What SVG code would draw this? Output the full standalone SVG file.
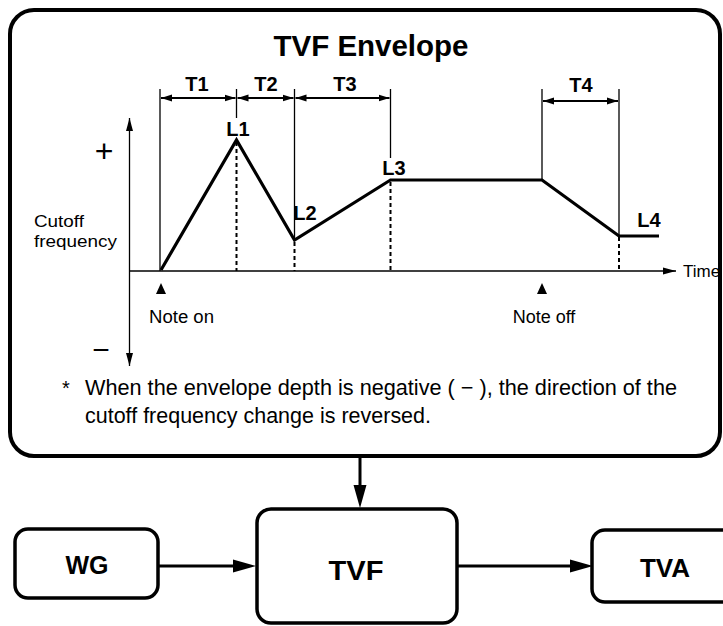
<svg xmlns="http://www.w3.org/2000/svg" width="723" height="626" viewBox="0 0 723 626">
<defs>
<style>
text{font-family:"Liberation Sans",Arial,sans-serif;fill:#000}
.b{font-weight:bold}
.thin{stroke:#000;stroke-width:1.3;fill:none}
.dim{stroke:#000;stroke-width:2;fill:none}
.dash{stroke:#000;stroke-width:2;stroke-dasharray:4 3;fill:none}
.env{stroke:#000;stroke-width:3.2;fill:none;stroke-linejoin:miter}
.box{fill:#fff;stroke:#000;stroke-width:3.5}
.conn{stroke:#000;stroke-width:3;fill:none}
</style>
<marker id="dimh" markerUnits="userSpaceOnUse" markerWidth="12" markerHeight="8" refX="11" refY="4" orient="auto-start-reverse"><path d="M0,0.5 L11,4 L0,7.5 z" fill="#000"/></marker>
<marker id="axh" markerUnits="userSpaceOnUse" markerWidth="14" markerHeight="8" refX="13" refY="4" orient="auto"><path d="M0,0.5 L13,4 L0,7.5 z" fill="#000"/></marker>
<marker id="big" markerUnits="userSpaceOnUse" markerWidth="24" markerHeight="14" refX="12" refY="7" orient="auto"><path d="M0,0.5 L23,7 L0,13.5 z" fill="#000"/></marker>
</defs>
<rect width="723" height="626" fill="#fff"/>

<g id="envelope-panel">
<rect x="10" y="10" width="710" height="446" rx="24" fill="#fff" stroke="#000" stroke-width="4"/>
<text class="b" x="371" y="56" font-size="30" text-anchor="middle" textLength="195" lengthAdjust="spacingAndGlyphs">TVF Envelope</text>

<!-- time dimension lines -->
<line class="thin" x1="160" y1="89" x2="160" y2="271"/>
<line class="thin" x1="236.5" y1="89" x2="236.5" y2="118"/>
<line class="thin" x1="294.5" y1="89" x2="294.5" y2="240"/>
<line class="thin" x1="390.5" y1="89" x2="390.5" y2="158"/>
<line class="thin" x1="542" y1="89" x2="542" y2="180"/>
<line class="thin" x1="619" y1="89" x2="619" y2="236"/>
<line class="dim" x1="161" y1="98" x2="235.5" y2="98" marker-start="url(#dimh)" marker-end="url(#dimh)"/>
<line class="dim" x1="237.5" y1="98" x2="293.5" y2="98" marker-start="url(#dimh)" marker-end="url(#dimh)"/>
<line class="dim" x1="295.5" y1="98" x2="389.5" y2="98" marker-start="url(#dimh)" marker-end="url(#dimh)"/>
<line class="dim" x1="543" y1="101" x2="618" y2="101" marker-start="url(#dimh)" marker-end="url(#dimh)"/>
<text class="b" x="197" y="91" font-size="20" text-anchor="middle">T1</text>
<text class="b" x="266" y="91" font-size="20" text-anchor="middle">T2</text>
<text class="b" x="345" y="91" font-size="20" text-anchor="middle">T3</text>
<text class="b" x="581" y="92" font-size="20" text-anchor="middle">T4</text>

<!-- axes -->
<line class="thin" x1="129.5" y1="250" x2="129.5" y2="118" stroke-width="1.6" marker-end="url(#axh)"/>
<line class="thin" x1="129.5" y1="250" x2="129.5" y2="366" stroke-width="1.6" marker-end="url(#axh)"/>
<line class="thin" x1="129.5" y1="271" x2="676" y2="271" stroke-width="1.8" marker-end="url(#axh)"/>
<text x="104" y="162" font-size="32" text-anchor="middle">+</text>
<text x="101" y="360" font-size="30" text-anchor="middle">−</text>
<text x="34" y="227" font-size="17" textLength="50" lengthAdjust="spacingAndGlyphs">Cutoff</text>
<text x="34" y="247" font-size="17" textLength="83" lengthAdjust="spacingAndGlyphs">frequency</text>
<text x="683" y="277" font-size="17">Time</text>

<!-- dashed level guides -->
<line class="dash" x1="236.5" y1="142" x2="236.5" y2="271"/>
<line class="dash" x1="294.5" y1="242" x2="294.5" y2="271"/>
<line class="dash" x1="390.5" y1="182" x2="390.5" y2="271"/>
<line class="dash" x1="619" y1="237" x2="619" y2="271"/>

<!-- envelope curve -->
<polyline class="env" points="161,270 236.5,140 294.5,240 390.5,180 542,180 619,236 659,236"/>
<text class="b" x="238" y="136" font-size="20" text-anchor="middle">L1</text>
<text class="b" x="305" y="220" font-size="20" text-anchor="middle">L2</text>
<text class="b" x="394" y="175" font-size="20" text-anchor="middle">L3</text>
<text class="b" x="649" y="227" font-size="20" text-anchor="middle">L4</text>

<!-- note markers -->
<path d="M161,283 L166,294 L156,294 z" fill="#000"/>
<path d="M542,283 L547,294 L537,294 z" fill="#000"/>
<text x="149" y="323" font-size="18" textLength="65" lengthAdjust="spacingAndGlyphs">Note on</text>
<text x="544" y="323" font-size="18" text-anchor="middle">Note off</text>

<!-- footnote -->
<text x="62" y="395" font-size="20">*</text>
<text x="85" y="395" font-size="21.5" textLength="592" lengthAdjust="spacingAndGlyphs">When the envelope depth is negative ( − ), the direction of the</text>
<text x="85" y="423" font-size="21.5" textLength="346" lengthAdjust="spacingAndGlyphs">cutoff frequency change is reversed.</text>
</g>

<g id="WG">
<rect class="box" x="15" y="529" width="143" height="69" rx="13"/>
<text class="b" x="87" y="574" font-size="25" text-anchor="middle">WG</text>
</g>
<g id="TVF">
<rect class="box" x="257" y="509" width="200" height="114" rx="14"/>
<text class="b" x="356" y="580" font-size="28" text-anchor="middle" textLength="55" lengthAdjust="spacingAndGlyphs">TVF</text>
</g>
<g id="TVA">
<rect class="box" x="592" y="530" width="150" height="72" rx="13"/>
<text class="b" x="665" y="577" font-size="26" text-anchor="middle">TVA</text>
</g>

<g id="connectors">
<line class="conn" x1="360" y1="456" x2="360" y2="497" marker-end="url(#big)"/>
<line class="conn" x1="158" y1="566" x2="245" y2="566" marker-end="url(#big)"/>
<line class="conn" x1="457" y1="566" x2="582" y2="566" marker-end="url(#big)"/>
</g>
</svg>
